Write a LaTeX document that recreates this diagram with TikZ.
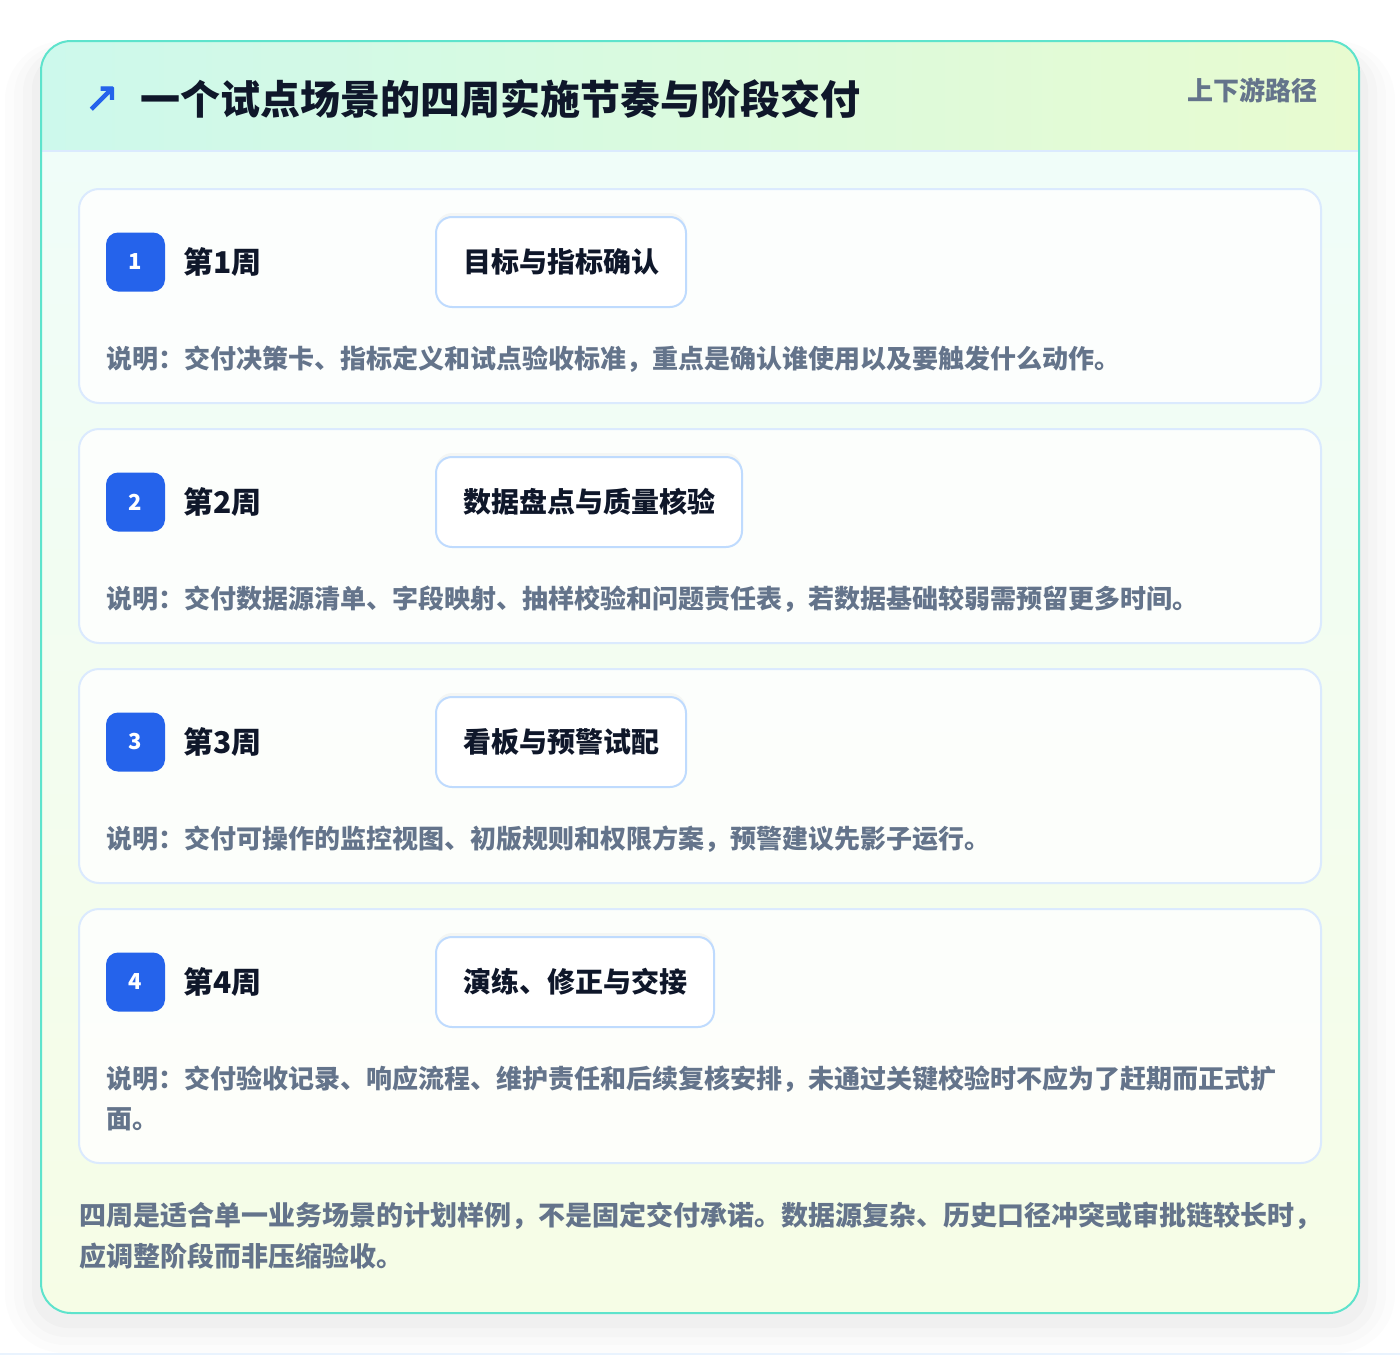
\documentclass[tikz,border=0pt]{standalone}
\usepackage{fontspec}
\setmainfont{Noto Sans CJK SC}
\newfontfamily\arrowfont{DejaVu Sans}[FakeBold=2.5]
\usetikzlibrary{positioning,shadows}

\definecolor{rimteal}{HTML}{5EE3CC}
\definecolor{headleft}{HTML}{CDF9EC}
\definecolor{headright}{HTML}{E8FBD0}
\definecolor{bodytop}{HTML}{F0FDF9}
\definecolor{bodybottom}{HTML}{F6FDE6}
\definecolor{paleblue}{HTML}{DBEAFE}
\definecolor{boxblue}{HTML}{BFDBFE}
\definecolor{badgeblue}{HTML}{2563EB}
\definecolor{inkdark}{HTML}{0F172A}
\definecolor{inkmuted}{HTML}{64748B}

\tikzset{every picture/.style={line width=0.75pt}}
\tikzset{
  weekcard/.style={draw=paleblue, line width=1.5pt, fill=white, fill opacity=0.8, rounded corners=15},
  badge/.style={fill=badgeblue, rounded corners=9, minimum size=44.25pt, inner sep=0pt, text=white, font=\bfseries\fontsize{16.5}{16.5}\selectfont},
  weeklabel/.style={inner sep=0pt, text=inkdark, font=\bfseries\fontsize{22.5}{22.5}\selectfont},
  stagebox/.style={draw=boxblue, line width=1.5pt, fill=white, rounded corners=12, minimum height=67.5pt, inner xsep=20.25pt, anchor=west, text=inkdark, font=\bfseries\fontsize{21}{21}\selectfont, drop shadow={opacity=0.06, shadow xshift=0pt, shadow yshift=3pt}},
  note/.style={inner sep=0pt, anchor=base west, text=inkmuted, font=\bfseries\fontsize{19.5}{19.5}\selectfont}
}

\begin{document}
\begin{tikzpicture}[x=0.75pt,y=0.75pt,yscale=-1,xscale=1]
%set diagram left start at 0, and has height of 1356
\useasboundingbox (0,0) rectangle (1400,1356);
\fill[white] (0,0) rectangle (1400,1356);

%Shadow of the outer card
\fill[black, opacity=0.01, rounded corners=44] (5,41) rectangle (1395,1353);
\fill[black, opacity=0.013, rounded corners=38] (14,45) rectangle (1386,1345);
\fill[black, opacity=0.016, rounded corners=32] (23,49) rectangle (1377,1337);
\fill[black, opacity=0.02, rounded corners=27] (32,53) rectangle (1368,1328);
%Page edge
\draw[paleblue!60, line width=1.5pt] (0,1354) -- (1400,1354);

%Outer card background and header band
\begin{scope}
\clip[rounded corners=22.5] (41,41) rectangle (1359,1313);
\shade[top color=bodytop, bottom color=bodybottom] (41,151) rectangle (1359,1313);
\shade[left color=headleft, right color=headright] (41,41) rectangle (1359,151);
\end{scope}
\draw[paleblue, line width=1.5pt] (41,151) -- (1359,151);
\draw[rimteal, line width=1.5pt, rounded corners=22.5] (41,41) rectangle (1359,1313);

% Header text
\node[text=badgeblue, inner sep=0pt, font=\arrowfont\fontsize{31}{31}\selectfont] (icon) at (102,99) {↗};
\node[inner sep=0pt, anchor=base west, text=inkdark, font=\bfseries\fontsize{30}{30}\selectfont] (title) at (140,114) {一个试点场景的四周实施节奏与阶段交付};
\node[inner sep=0pt, anchor=base east, text=inkmuted, font=\bfseries\fontsize{19.5}{19.5}\selectfont] (route) at (1318,100) {上下游路径};

%Week 1
\draw[weekcard] (79,189) rectangle (1321,403);
\node[badge] (b1) at (135.5,262) {1};
\node[weeklabel, right=13pt of b1] (w1) {第1周};
\node[stagebox] (s1) at (435,262) {目标与指标确认};
\node[note] (d1) at (106,368) {说明：交付决策卡、指标定义和试点验收标准，重点是确认谁使用以及要触发什么动作。};

%Week 2
\draw[weekcard] (79,429) rectangle (1321,643);
\node[badge] (b2) at (135.5,502) {2};
\node[weeklabel, right=13pt of b2] (w2) {第2周};
\node[stagebox] (s2) at (435,502) {数据盘点与质量核验};
\node[note] (d2) at (106,608) {说明：交付数据源清单、字段映射、抽样校验和问题责任表，若数据基础较弱需预留更多时间。};

%Week 3
\draw[weekcard] (79,669) rectangle (1321,883);
\node[badge] (b3) at (135.5,742) {3};
\node[weeklabel, right=13pt of b3] (w3) {第3周};
\node[stagebox] (s3) at (435,742) {看板与预警试配};
\node[note] (d3) at (106,848) {说明：交付可操作的监控视图、初版规则和权限方案，预警建议先影子运行。};

%Week 4
\draw[weekcard] (79,909) rectangle (1321,1163);
\node[badge] (b4) at (135.5,982) {4};
\node[weeklabel, right=13pt of b4] (w4) {第4周};
\node[stagebox] (s4) at (435,982) {演练、修正与交接};
\node[note] (d4) at (106,1088) {说明：交付验收记录、响应流程、维护责任和后续复核安排，未通过关键校验时不应为了赶期而正式扩};
\node[note] (d4b) at (106,1128) {面。};

% Footer note
\node[note, font=\bfseries\fontsize{20.25}{20.25}\selectfont] (f1) at (79,1225) {四周是适合单一业务场景的计划样例，不是固定交付承诺。数据源复杂、历史口径冲突或审批链较长时，};
\node[note, font=\bfseries\fontsize{20.25}{20.25}\selectfont] (f2) at (79,1266) {应调整阶段而非压缩验收。};

\end{tikzpicture}
\end{document}
